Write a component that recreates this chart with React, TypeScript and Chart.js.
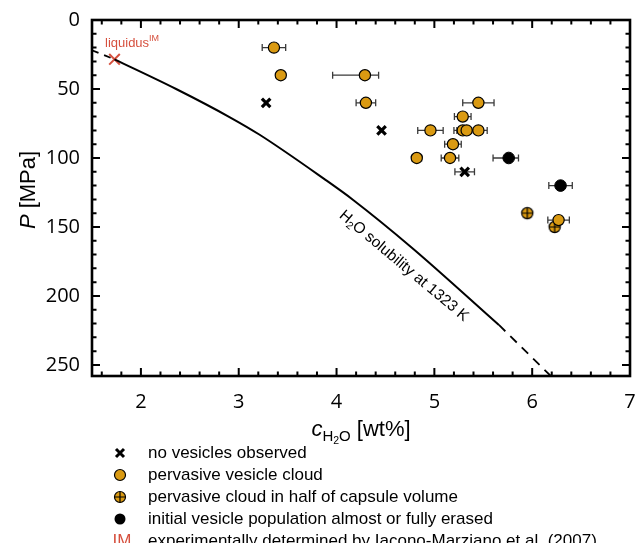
import React, { useEffect, useRef } from 'react';
import { Chart, registerables } from 'chart.js';
Chart.register(...registerables);

// ---------- data ----------
const X_MIN = 1.5;
const X_MAX = 7;
const Y_MIN = 0;
const Y_MAX = 258;
const xMajorTicks = [2, 3, 4, 5, 6, 7];
const yMajorTicks = [0, 50, 100, 150, 200, 250];

// no vesicles observed
const noVesX = [3.28, 4.46, 5.31];
const noVesY = [60, 80, 110];
const noVesErrLo = [0, 0, 0.1];
const noVesErrHi = [0, 0, 0.1];

// pervasive vesicle cloud
const pervX = [3.36, 3.43, 4.29, 4.30, 4.82, 4.96, 5.45, 5.29, 5.29, 5.33, 5.45, 5.19, 5.16, 6.27];
const pervY = [20, 40, 40, 60, 100, 80, 60, 70, 80, 80, 80, 90, 100, 145];
const pervErrLo = [0.12, 0, 0.33, 0.1, 0.05, 0.13, 0.16, 0.085, 0.09, 0.1, 0.09, 0.085, 0.09, 0.11];
const pervErrHi = [0.12, 0, 0.14, 0.1, 0.05, 0.13, 0.16, 0.085, 0.09, 0.1, 0.09, 0.085, 0.09, 0.11];

// pervasive cloud in half of capsule volume
const halfX = [5.95, 6.23];
const halfY = [140, 150];
const halfErrLo = [0.03, 0];
const halfErrHi = [0.03, 0];

// initial vesicle population almost or fully erased
const erasedX = [5.76, 6.29];
const erasedY = [100, 120];
const erasedErrLo = [0.16, 0.12];
const erasedErrHi = [0.1, 0.12];

// liquidus (Iacono-Marziano et al. 2007)
const liquidusX = [1.73];
const liquidusY = [28.5];

// H2O solubility curve at 1323 K
const solLowX = [1.5, 1.73];
const solLowY = [22, 28.5];
const solX = [1.73, 2.36, 2.91, 3.21, 3.88, 4.17, 4.77, 5.66];
const solY = [28.5, 50, 70.5, 83, 115.5, 130.4, 165, 221];
const solHighX = [5.66, 6.19];
const solHighY = [221, 258];

const legendLabels = [
  'no vesicles observed',
  'pervasive vesicle cloud',
  'pervasive cloud in half of capsule volume',
  'initial vesicle population almost or fully erased',
  'experimentally determined by Iacono-Marziano et al. (2007)',
];
const solubilityLabel = ['H', '2', 'O solubility at 1323 K'];
const liquidusLabel = ['liquidus', 'IM'];

// ---------- styles ----------
const ORANGE = '#DA9A12';
const RED = '#D6503E';
const ERR = '#3a3a3a';
const SANS = '"Liberation Sans", Arial, sans-serif';
const TICKFONT = '"Open Sans", sans-serif';

const pts = (xs: number[], ys: number[]) => xs.map((x, i) => ({ x, y: ys[i] }));

function makeCrossedCircle(r: number) {
  const size = Math.ceil(r * 2 + 4);
  const c = document.createElement('canvas');
  c.width = size;
  c.height = size;
  const ctx = c.getContext('2d')!;
  drawCrossedCircle(ctx, size / 2, size / 2, r);
  return c;
}
function drawCrossedCircle(ctx: CanvasRenderingContext2D, x: number, y: number, r: number) {
  ctx.save();
  ctx.beginPath();
  ctx.arc(x, y, r, 0, Math.PI * 2);
  ctx.fillStyle = ORANGE;
  ctx.fill();
  ctx.lineWidth = 1.2;
  ctx.strokeStyle = '#000';
  ctx.stroke();
  ctx.beginPath();
  ctx.moveTo(x - r, y);
  ctx.lineTo(x + r, y);
  ctx.moveTo(x, y - r);
  ctx.lineTo(x, y + r);
  ctx.stroke();
  ctx.restore();
}

type Run = { t: string; font: string; dy?: number };
function drawRuns(ctx: CanvasRenderingContext2D, runs: Run[], cx: number, cy: number, angle: number, color: string, align: 'center' | 'left' = 'center') {
  ctx.save();
  ctx.translate(cx, cy);
  ctx.rotate(angle);
  ctx.fillStyle = color;
  ctx.textBaseline = 'alphabetic';
  ctx.textAlign = 'left';
  let total = 0;
  const widths = runs.map((r) => {
    ctx.font = r.font;
    const w = ctx.measureText(r.t).width;
    total += w;
    return w;
  });
  let x = align === 'center' ? -total / 2 : 0;
  runs.forEach((r, i) => {
    ctx.font = r.font;
    ctx.fillText(r.t, x, r.dy || 0);
    x += widths[i];
  });
  ctx.restore();
}

const errorSets = [
  { xs: noVesX, ys: noVesY, lo: noVesErrLo, hi: noVesErrHi },
  { xs: pervX, ys: pervY, lo: pervErrLo, hi: pervErrHi },
  { xs: halfX, ys: halfY, lo: halfErrLo, hi: halfErrHi },
  { xs: erasedX, ys: erasedY, lo: erasedErrLo, hi: erasedErrHi },
];

const decorPlugin = {
  id: 'decor',
  beforeDatasetsDraw(chart: any) {
    const ctx: CanvasRenderingContext2D = chart.ctx;
    const xs = chart.scales.x;
    const ys = chart.scales.y;
    ctx.save();
    ctx.strokeStyle = ERR;
    ctx.lineWidth = 1.3;
    errorSets.forEach((s) => {
      s.xs.forEach((x, i) => {
        if (!s.lo[i] && !s.hi[i]) return;
        const y = ys.getPixelForValue(s.ys[i]);
        const x0 = xs.getPixelForValue(x - s.lo[i]);
        const x1 = xs.getPixelForValue(x + s.hi[i]);
        ctx.beginPath();
        ctx.moveTo(x0, y);
        ctx.lineTo(x1, y);
        ctx.moveTo(x0, y - 3.5);
        ctx.lineTo(x0, y + 3.5);
        ctx.moveTo(x1, y - 3.5);
        ctx.lineTo(x1, y + 3.5);
        ctx.stroke();
      });
    });
    ctx.restore();
  },
  afterDraw(chart: any) {
    const ctx: CanvasRenderingContext2D = chart.ctx;
    const a = chart.chartArea;
    const xs = chart.scales.x;
    const ys = chart.scales.y;
    ctx.save();
    // ticks (inward, all four sides)
    ctx.strokeStyle = '#000';
    ctx.lineWidth = 2;
    const major = 8;
    const minor = 4.5;
    for (let v = 1.6; v < X_MAX + 0.001; v += 0.2) {
      const isMajor = xMajorTicks.some((t) => Math.abs(t - v) < 1e-6);
      const L = isMajor ? major : minor;
      const px = xs.getPixelForValue(v);
      ctx.beginPath();
      ctx.moveTo(px, a.bottom);
      ctx.lineTo(px, a.bottom - L);
      ctx.moveTo(px, a.top);
      ctx.lineTo(px, a.top + L);
      ctx.stroke();
    }
    for (let v = 10; v < Y_MAX; v += 10) {
      const isMajor = yMajorTicks.includes(v);
      const L = isMajor ? major : minor;
      const py = ys.getPixelForValue(v);
      ctx.beginPath();
      ctx.moveTo(a.left, py);
      ctx.lineTo(a.left + L, py);
      ctx.moveTo(a.right, py);
      ctx.lineTo(a.right - L, py);
      ctx.stroke();
    }
    // box
    ctx.lineWidth = 2.6;
    ctx.strokeRect(a.left, a.top, a.right - a.left, a.bottom - a.top);

    // solubility label
    const lx = xs.getPixelForValue(4.66);
    const ly = ys.getPixelForValue(177);
    drawRuns(
      ctx,
      [
        { t: solubilityLabel[0], font: `15.5px ${SANS}` },
        { t: solubilityLabel[1], font: `10.5px ${SANS}`, dy: 3 },
        { t: solubilityLabel[2], font: `15.5px ${SANS}` },
      ],
      lx,
      ly + 5,
      (40 * Math.PI) / 180,
      '#000'
    );
    // liquidus label
    drawRuns(
      ctx,
      [
        { t: liquidusLabel[0], font: `13px ${SANS}` },
        { t: liquidusLabel[1], font: `9px ${SANS}`, dy: -6 },
      ],
      xs.getPixelForValue(1.633),
      ys.getPixelForValue(19.3),
      0,
      RED,
      'left'
    );

    // axis titles
    drawRuns(
      ctx,
      [
        { t: 'c', font: `italic 22px ${SANS}` },
        { t: 'H', font: `15px ${SANS}`, dy: 5 },
        { t: '2', font: `10.5px ${SANS}`, dy: 8 },
        { t: 'O', font: `15px ${SANS}`, dy: 5 },
        { t: ' [wt%]', font: `22px ${SANS}` },
      ],
      (a.left + a.right) / 2,
      436,
      0,
      '#000'
    );
    drawRuns(
      ctx,
      [
        { t: 'P', font: `italic 22px ${SANS}` },
        { t: ' [MPa]', font: `22px ${SANS}` },
      ],
      35,
      190,
      -Math.PI / 2,
      '#000'
    );

    // legend
    const symX = 120;
    const textX = 148;
    const rows = [453, 475, 497, 519, 541];
    ctx.textBaseline = 'middle';
    ctx.textAlign = 'left';
    ctx.font = `17px ${SANS}`;
    ctx.fillStyle = '#000';
    legendLabels.forEach((t, i) => ctx.fillText(t, textX, rows[i]));
    // symbols
    const r = 5.5;
    ctx.strokeStyle = '#000';
    ctx.lineWidth = 3;
    ctx.beginPath();
    ctx.moveTo(symX - 4, rows[0] - 4);
    ctx.lineTo(symX + 4, rows[0] + 4);
    ctx.moveTo(symX + 4, rows[0] - 4);
    ctx.lineTo(symX - 4, rows[0] + 4);
    ctx.stroke();
    ctx.lineWidth = 1.2;
    ctx.beginPath();
    ctx.arc(symX, rows[1], r, 0, Math.PI * 2);
    ctx.fillStyle = ORANGE;
    ctx.fill();
    ctx.stroke();
    drawCrossedCircle(ctx, symX, rows[2], r);
    ctx.beginPath();
    ctx.arc(symX, rows[3], r, 0, Math.PI * 2);
    ctx.fillStyle = '#000';
    ctx.fill();
    ctx.fillStyle = RED;
    ctx.font = `17px ${SANS}`;
    ctx.textAlign = 'center';
    ctx.fillText('IM', symX + 2, rows[4]);
    ctx.restore();
  },
};

export default function App() {
  const ref = useRef<HTMLCanvasElement | null>(null);
  useEffect(() => {
    if (!ref.current) return;
    const crossed = makeCrossedCircle(5.6);
    const chart = new Chart(ref.current, {
      type: 'scatter',
      data: {
        datasets: [
          {
            label: 'solLow',
            type: 'line',
            data: pts(solLowX, solLowY),
            borderColor: '#000',
            borderWidth: 1.8,
            borderDash: [7, 6],
            pointRadius: 0,
            showLine: true,
          } as any,
          {
            label: 'sol',
            type: 'line',
            data: pts(solX, solY),
            borderColor: '#000',
            borderWidth: 2,
            pointRadius: 0,
            cubicInterpolationMode: 'monotone',
            showLine: true,
          } as any,
          {
            label: 'solHigh',
            type: 'line',
            data: pts(solHighX, solHighY),
            borderColor: '#000',
            borderWidth: 1.8,
            borderDash: [9, 7],
            pointRadius: 0,
            showLine: true,
          } as any,
          {
            label: legendLabels[0],
            data: pts(noVesX, noVesY),
            pointStyle: 'crossRot',
            pointRadius: 6,
            borderColor: '#000',
            borderWidth: 3.2,
          },
          {
            label: legendLabels[1],
            data: pts(pervX, pervY),
            pointStyle: 'circle',
            pointRadius: 5.6,
            backgroundColor: ORANGE,
            borderColor: '#000',
            borderWidth: 1.2,
          },
          {
            label: legendLabels[2],
            data: pts(halfX, halfY),
            pointStyle: crossed,
            pointRadius: 5.6,
          },
          {
            label: legendLabels[3],
            data: pts(erasedX, erasedY),
            pointStyle: 'circle',
            pointRadius: 5.8,
            backgroundColor: '#000',
            borderColor: '#000',
            borderWidth: 1,
          },
          {
            label: 'liquidus',
            data: pts(liquidusX, liquidusY),
            pointStyle: 'crossRot',
            pointRadius: 7.5,
            borderColor: RED,
            borderWidth: 2,
          },
        ],
      },
      options: {
        animation: false,
        responsive: true,
        maintainAspectRatio: false,
        layout: { padding: { top: 20, right: 10, left: 0, bottom: 0 } },
        plugins: { legend: { display: false }, tooltip: { enabled: false } },
        scales: {
          x: {
            type: 'linear',
            min: X_MIN,
            max: X_MAX,
            grid: { display: false, drawTicks: false },
            border: { display: false },
            afterBuildTicks: (s: any) => {
              s.ticks = xMajorTicks.map((v) => ({ value: v }));
            },
            afterFit: (s: any) => {
              s.height = 167;
              s.paddingLeft = 0;
              s.paddingRight = 0;
            },
            ticks: {
              autoSkip: false,
              maxRotation: 0,
              padding: 14,
              color: '#000',
              font: { family: TICKFONT, size: 20 },
              callback: (v: any) => String(v),
            },
          },
          y: {
            type: 'linear',
            reverse: true,
            min: Y_MIN,
            max: Y_MAX,
            grid: { display: false, drawTicks: false },
            border: { display: false },
            afterBuildTicks: (s: any) => {
              s.ticks = yMajorTicks.map((v) => ({ value: v }));
            },
            afterFit: (s: any) => {
              s.width = 92;
              s.paddingTop = 0;
              s.paddingBottom = 0;
            },
            ticks: {
              autoSkip: false,
              padding: 12,
              color: '#000',
              font: { family: TICKFONT, size: 20 },
              callback: (v: any) => String(v),
            },
          },
        },
      },
      plugins: [decorPlugin],
    });
    return () => chart.destroy();
  }, []);
  return (
    <div style={{ position: 'absolute', left: 0, top: 0, width: 640, height: 543, background: '#fff' }}>
      <canvas ref={ref} />
    </div>
  );
}
